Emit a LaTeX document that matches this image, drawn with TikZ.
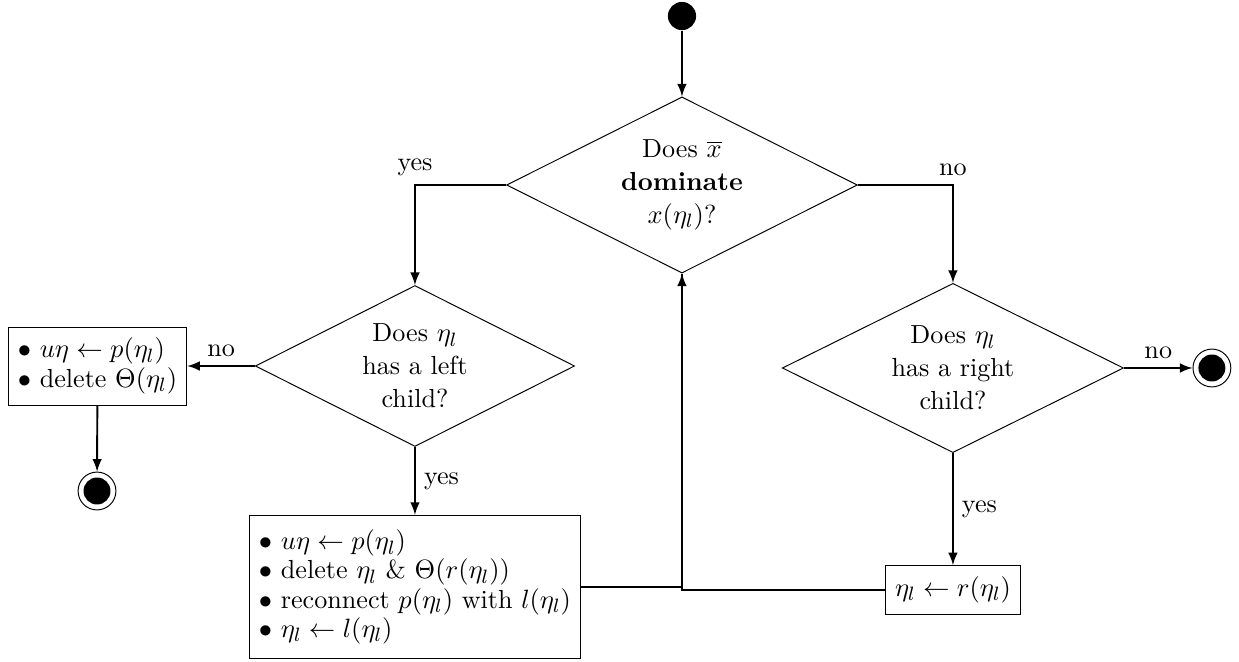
\documentclass[tikz,border=0pt]{standalone}
\usetikzlibrary{arrows,shapes.geometric}

\begin{document}
\begin{tikzpicture}[>=latex]
		\tikzset{every node/.append style = {font=\fontsize{10.8}{13.6}\selectfont},
			decision/.style = {diamond,aspect=2,draw=black,inner sep=0pt,align=center},
			action/.style = {rectangle,draw=black,align=left,inner xsep=4pt,inner ysep=4.6pt,
				font=\fontsize{10.8}{12.1}\selectfont},
			startnode/.style = {circle,fill=black,inner sep=0pt,minimum size=0.41cm},
			endnode/.style = {circle,draw=black,inner sep=0pt,minimum size=0.55cm,
				path picture={\fill[black] (path picture bounding box.center) circle (0.196cm);}},
			flow/.style = {->,thick}};
		\useasboundingbox (0,0) rectangle (18.01,-9.61);
		\node[startnode] (start) at (9.913, -0.233) {};
		\node[decision,minimum width=5.1cm,minimum height=2.56cm] (dom) at (9.913, -2.689)
			{Does $\overline{x}$\\ \textbf{dominate}\\ $x(\eta_l)$?};
		\node[decision,minimum width=4.64cm,minimum height=2.34cm] (left) at (6.032, -5.32)
			{Does $\eta_l$\\ has a left\\ child?};
		\node[decision,minimum width=4.96cm,minimum height=2.46cm] (right) at (13.852, -5.349)
			{Does $\eta_l$\\ has a right\\ child?};
		\node[action] (leftbox) at (1.417, -5.32)
			{$\bullet$ $u\eta \leftarrow p(\eta_l)$\\ $\bullet$ delete $\Theta(\eta_l)$};
		\node[endnode] (leftend) at (1.41, -7.137) {};
		\node[action,inner ysep=6pt] (update) at (6.032, -8.532)
			{$\bullet$ $u\eta \leftarrow p(\eta_l)$\\ $\bullet$ delete $\eta_l$ \& $\Theta(r(\eta_l))$\\
			 $\bullet$ reconnect $p(\eta_l)$ with $l(\eta_l)$\\ $\bullet$ $\eta_l \leftarrow l(\eta_l)$};
		\node[action] (rightbox) at (13.852, -8.576) {$\eta_l \leftarrow r(\eta_l)$};
		\node[endnode] (rightend) at (17.616, -5.349) {};
		\draw[flow] (start) -- (dom);
		\draw[flow] (dom.west) -| node[above] {yes} (left.north);
		\draw[flow] (dom.east) -| node[above] {no} (right.north);
		\draw[flow] (left.west) -- node[above] {no} (leftbox.east);
		\draw[flow] (leftbox) -- (leftend);
		\draw[flow] (left.south) -- node[right] {yes} (update.north);
		\draw[flow] (right.east) -- node[above] {no} (rightend);
		\draw[flow] (right.south) -- node[right] {yes} (rightbox.north);
		\draw[thick] (update.east) -| (dom.south);
		\draw[flow] (rightbox.west) -| (dom.south);
	\end{tikzpicture}
\end{document}
